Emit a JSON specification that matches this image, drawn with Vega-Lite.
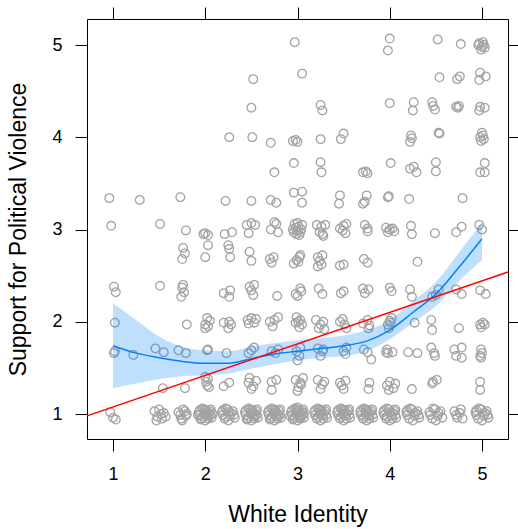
{
  "$schema": "https://vega.github.io/schema/vega-lite/v6.json",
  "width": 421,
  "height": 420,
  "autosize": "none",
  "padding": {"left": 87, "top": 19, "right": 10, "bottom": 90},
  "background": "white",
  "config": {
    "view": {"stroke": "black", "strokeWidth": 1},
    "axis": {"grid": false, "domain": false, "tickColor": "black", "tickSize": 12, "tickWidth": 1, "labelColor": "black", "titleColor": "black", "labelFont": "Liberation Sans", "titleFont": "Liberation Sans", "labelFontSize": 18, "titleFontSize": 23, "titleFontWeight": "normal"}
  },
  "datasets": {
    "pts": [
      {"x":2.97,"y":5.03},{"x":4.0,"y":5.07},{"x":3.98,"y":4.94},{"x":4.52,"y":5.06},{"x":4.77,"y":5.01},{"x":4.97,"y":5.02},{"x":5.0,"y":4.98},{"x":5.02,"y":5.0},{"x":4.99,"y":4.95},{"x":5.03,"y":4.97},{"x":4.96,"y":5.0},{"x":5.01,"y":5.03},
      {"x":2.52,"y":4.63},{"x":3.05,"y":4.69},{"x":4.54,"y":4.65},{"x":4.73,"y":4.63},{"x":4.76,"y":4.66},{"x":4.98,"y":4.7},{"x":5.04,"y":4.66},{"x":4.97,"y":4.62},
      {"x":2.5,"y":4.32},{"x":3.25,"y":4.35},{"x":3.27,"y":4.29},{"x":4.0,"y":4.37},{"x":4.26,"y":4.38},{"x":4.25,"y":4.29},{"x":4.46,"y":4.38},{"x":4.47,"y":4.34},{"x":4.49,"y":4.3},{"x":4.72,"y":4.33},{"x":4.75,"y":4.34},{"x":4.74,"y":4.32},{"x":4.98,"y":4.33},{"x":5.03,"y":4.32},{"x":4.97,"y":4.29},
      {"x":2.26,"y":4.0},{"x":2.51,"y":4.0},{"x":2.71,"y":3.94},{"x":2.95,"y":3.96},{"x":2.98,"y":3.97},{"x":3.0,"y":3.95},{"x":3.25,"y":3.98},{"x":3.47,"y":3.98},{"x":3.5,"y":4.04},{"x":4.22,"y":3.95},{"x":4.24,"y":3.99},{"x":4.23,"y":4.02},{"x":4.53,"y":4.05},{"x":4.54,"y":4.04},{"x":5.0,"y":4.05},{"x":4.98,"y":4.0},{"x":5.02,"y":3.98},{"x":4.99,"y":3.96},{"x":5.01,"y":4.02},
      {"x":2.75,"y":3.62},{"x":2.96,"y":3.72},{"x":3.25,"y":3.73},{"x":3.26,"y":3.62},{"x":3.71,"y":3.62},{"x":3.74,"y":3.63},{"x":3.76,"y":3.61},{"x":4.01,"y":3.72},{"x":4.22,"y":3.66},{"x":4.26,"y":3.68},{"x":4.29,"y":3.62},{"x":4.5,"y":3.73},{"x":4.5,"y":3.63},{"x":5.03,"y":3.72},{"x":4.98,"y":3.62},{"x":5.03,"y":3.62},
      {"x":0.96,"y":3.34},{"x":1.29,"y":3.32},{"x":1.73,"y":3.35},{"x":2.22,"y":3.31},{"x":2.5,"y":3.31},{"x":2.71,"y":3.32},{"x":2.77,"y":3.29},{"x":2.96,"y":3.4},{"x":3.05,"y":3.41},{"x":3.05,"y":3.29},{"x":3.46,"y":3.37},{"x":3.45,"y":3.28},{"x":3.73,"y":3.3},{"x":3.75,"y":3.37},{"x":3.71,"y":3.28},{"x":3.98,"y":3.35},{"x":3.99,"y":3.36},{"x":4.21,"y":3.33},{"x":4.79,"y":3.34},
      {"x":0.98,"y":3.04},{"x":1.51,"y":3.06},{"x":1.79,"y":2.99},{"x":1.98,"y":2.95},{"x":2.03,"y":2.94},{"x":2.0,"y":2.96},{"x":2.21,"y":2.95},{"x":2.29,"y":2.97},{"x":2.45,"y":3.05},{"x":2.5,"y":3.07},{"x":2.54,"y":3.05},{"x":2.47,"y":2.96},{"x":2.71,"y":3.0},{"x":2.77,"y":3.06},{"x":2.79,"y":2.97},{"x":2.75,"y":3.08},
      {"x":2.95,"y":3.0},{"x":2.97,"y":3.06},{"x":2.99,"y":2.95},{"x":3.01,"y":3.03},{"x":3.03,"y":2.97},{"x":3.05,"y":3.05},{"x":2.96,"y":2.97},{"x":2.98,"y":3.02},{"x":3.0,"y":3.07},{"x":3.02,"y":2.94},{"x":3.04,"y":3.0},{"x":3.0,"y":2.99},
      {"x":3.21,"y":3.05},{"x":3.26,"y":3.03},{"x":3.3,"y":3.05},{"x":3.27,"y":2.95},{"x":3.24,"y":2.97},{"x":3.28,"y":2.93},
      {"x":3.46,"y":3.01},{"x":3.49,"y":2.99},{"x":3.53,"y":3.06},{"x":3.52,"y":2.96},{"x":3.5,"y":3.04},
      {"x":3.73,"y":3.05},{"x":3.76,"y":3.01},{"x":3.76,"y":2.98},{"x":3.96,"y":3.02},{"x":4.0,"y":3.0},{"x":4.03,"y":3.01},{"x":4.05,"y":2.98},{"x":3.98,"y":2.97},{"x":4.23,"y":3.04},{"x":4.24,"y":2.95},{"x":4.49,"y":2.96},{"x":4.72,"y":2.97},{"x":4.78,"y":3.03},{"x":4.97,"y":3.05},{"x":5.0,"y":3.0},
      {"x":1.76,"y":2.8},{"x":1.78,"y":2.74},{"x":1.75,"y":2.68},{"x":2.03,"y":2.83},{"x":2.0,"y":2.7},{"x":2.25,"y":2.83},{"x":2.26,"y":2.79},{"x":2.27,"y":2.7},{"x":2.48,"y":2.76},{"x":2.5,"y":2.66},{"x":2.7,"y":2.68},{"x":2.72,"y":2.64},{"x":2.74,"y":2.7},{"x":2.96,"y":2.63},{"x":2.99,"y":2.67},{"x":3.02,"y":2.7},{"x":3.01,"y":2.65},{"x":3.03,"y":2.72},{"x":3.22,"y":2.7},{"x":3.24,"y":2.66},{"x":3.26,"y":2.62},{"x":3.22,"y":2.6},{"x":3.27,"y":2.72},{"x":3.46,"y":2.61},{"x":3.5,"y":2.62},{"x":3.72,"y":2.68},{"x":3.76,"y":2.64},{"x":4.3,"y":2.65},
      {"x":1.01,"y":2.38},{"x":1.03,"y":2.32},{"x":1.51,"y":2.39},{"x":1.75,"y":2.37},{"x":1.77,"y":2.32},{"x":1.74,"y":2.27},{"x":1.76,"y":2.4},{"x":2.2,"y":2.31},{"x":2.27,"y":2.34},{"x":2.26,"y":2.27},{"x":2.48,"y":2.38},{"x":2.52,"y":2.29},{"x":2.53,"y":2.4},{"x":2.5,"y":2.34},{"x":2.78,"y":2.28},{"x":3.0,"y":2.28},{"x":3.03,"y":2.36},{"x":3.04,"y":2.33},{"x":2.98,"y":2.3},{"x":3.23,"y":2.36},{"x":3.27,"y":2.3},{"x":3.47,"y":2.31},{"x":3.5,"y":2.33},{"x":3.71,"y":2.36},{"x":3.73,"y":2.31},{"x":3.77,"y":2.35},{"x":4.0,"y":2.37},{"x":4.02,"y":2.33},{"x":4.22,"y":2.35},{"x":4.24,"y":2.27},{"x":4.46,"y":2.27},{"x":4.5,"y":2.29},{"x":4.53,"y":2.35},{"x":4.72,"y":2.35},{"x":4.78,"y":2.3},{"x":4.98,"y":2.34},{"x":5.04,"y":2.3},
      {"x":1.02,"y":1.99},{"x":1.8,"y":1.97},{"x":2.0,"y":1.97},{"x":2.02,"y":2.04},{"x":2.05,"y":2.01},{"x":2.0,"y":1.93},{"x":2.03,"y":1.95},{"x":2.2,"y":1.99},{"x":2.26,"y":2.0},{"x":2.25,"y":1.93},{"x":2.28,"y":1.97},{"x":2.46,"y":2.02},{"x":2.5,"y":2.04},{"x":2.53,"y":1.99},{"x":2.47,"y":1.98},{"x":2.55,"y":2.03},{"x":2.7,"y":2.0},{"x":2.75,"y":2.02},{"x":2.73,"y":1.95},{"x":2.79,"y":2.05},{"x":2.98,"y":1.99},{"x":3.03,"y":2.02},{"x":3.05,"y":1.97},{"x":3.02,"y":1.94},{"x":2.99,"y":2.05},{"x":3.01,"y":2.0},{"x":3.2,"y":2.02},{"x":3.25,"y":1.97},{"x":3.28,"y":2.0},{"x":3.23,"y":1.93},{"x":3.29,"y":1.92},{"x":3.46,"y":2.0},{"x":3.51,"y":1.97},{"x":3.49,"y":2.03},{"x":3.53,"y":1.93},{"x":3.71,"y":1.98},{"x":3.76,"y":2.02},{"x":3.78,"y":1.96},{"x":3.77,"y":1.93},{"x":3.98,"y":1.97},{"x":4.0,"y":2.01},{"x":3.99,"y":1.93},{"x":4.02,"y":2.04},{"x":4.01,"y":1.99},{"x":4.27,"y":1.99},{"x":4.45,"y":2.02},{"x":4.46,"y":1.91},{"x":4.75,"y":1.93},{"x":4.98,"y":1.97},{"x":5.01,"y":1.99},{"x":5.03,"y":1.97},{"x":4.99,"y":1.94},
      {"x":1.02,"y":1.68},{"x":1.01,"y":1.66},{"x":1.22,"y":1.64},{"x":1.46,"y":1.71},{"x":1.55,"y":1.67},{"x":1.71,"y":1.69},{"x":1.79,"y":1.66},{"x":2.03,"y":1.7},{"x":2.02,"y":1.69},{"x":2.23,"y":1.66},{"x":2.47,"y":1.66},{"x":2.5,"y":1.69},{"x":2.53,"y":1.72},{"x":2.72,"y":1.68},{"x":2.76,"y":1.66},{"x":2.79,"y":1.7},{"x":2.99,"y":1.68},{"x":3.02,"y":1.63},{"x":3.03,"y":1.72},{"x":3.0,"y":1.58},{"x":3.22,"y":1.71},{"x":3.27,"y":1.68},{"x":3.25,"y":1.63},{"x":3.28,"y":1.7},{"x":3.5,"y":1.68},{"x":3.53,"y":1.72},{"x":3.52,"y":1.65},{"x":3.72,"y":1.7},{"x":3.76,"y":1.67},{"x":3.8,"y":1.59},{"x":3.97,"y":1.7},{"x":3.98,"y":1.66},{"x":4.03,"y":1.67},{"x":3.96,"y":1.67},{"x":4.2,"y":1.67},{"x":4.3,"y":1.66},{"x":4.45,"y":1.72},{"x":4.48,"y":1.66},{"x":4.49,"y":1.63},{"x":4.7,"y":1.7},{"x":4.78,"y":1.72},{"x":4.72,"y":1.63},{"x":4.78,"y":1.61},{"x":4.99,"y":1.7},{"x":5.0,"y":1.66},{"x":4.98,"y":1.63},{"x":4.99,"y":1.61},
      {"x":1.54,"y":1.28},{"x":1.78,"y":1.28},{"x":2.0,"y":1.4},{"x":2.03,"y":1.38},{"x":2.01,"y":1.35},{"x":2.04,"y":1.29},{"x":2.02,"y":1.31},{"x":2.2,"y":1.3},{"x":2.26,"y":1.34},{"x":2.48,"y":1.39},{"x":2.52,"y":1.3},{"x":2.47,"y":1.34},{"x":2.55,"y":1.36},{"x":2.5,"y":1.27},{"x":2.72,"y":1.35},{"x":2.77,"y":1.37},{"x":2.72,"y":1.26},{"x":2.98,"y":1.37},{"x":3.03,"y":1.34},{"x":3.01,"y":1.29},{"x":3.06,"y":1.39},{"x":3.0,"y":1.25},{"x":3.04,"y":1.32},{"x":3.22,"y":1.37},{"x":3.27,"y":1.32},{"x":3.25,"y":1.27},{"x":3.29,"y":1.35},{"x":3.46,"y":1.34},{"x":3.52,"y":1.36},{"x":3.5,"y":1.27},{"x":3.48,"y":1.31},{"x":3.78,"y":1.34},{"x":3.77,"y":1.27},{"x":3.97,"y":1.31},{"x":4.0,"y":1.35},{"x":3.99,"y":1.26},{"x":4.04,"y":1.28},{"x":4.06,"y":1.33},{"x":4.24,"y":1.27},{"x":4.47,"y":1.35},{"x":4.51,"y":1.37},{"x":4.46,"y":1.33},{"x":4.98,"y":1.35},{"x":4.98,"y":1.26},
      {"x":0.97,"y":1.02},{"x":1.0,"y":0.96},{"x":1.03,"y":0.94},
      {"x":1.45,"y":1.03},{"x":1.48,"y":0.97},{"x":1.5,"y":1.05},{"x":1.53,"y":0.95},{"x":1.55,"y":1.01},{"x":1.47,"y":0.93},{"x":1.52,"y":1.0},{"x":1.57,"y":0.97},
      {"x":1.71,"y":1.02},{"x":1.74,"y":0.95},{"x":1.76,"y":1.05},{"x":1.79,"y":0.98},{"x":1.73,"y":0.99},{"x":1.78,"y":1.03},{"x":1.75,"y":0.93},{"x":1.8,"y":1.0},
      {"x":1.93,"y":1.02},{"x":1.96,"y":0.95},{"x":1.99,"y":1.05},{"x":2.02,"y":0.98},{"x":2.05,"y":1.03},{"x":2.07,"y":0.96},{"x":1.94,"y":0.99},{"x":1.97,"y":1.06},{"x":2.0,"y":0.93},{"x":2.03,"y":1.01},{"x":2.06,"y":0.99},{"x":1.94,"y":1.04},{"x":1.97,"y":0.97},{"x":2.0,"y":1.02},{"x":2.03,"y":0.95},{"x":2.06,"y":1.05},{"x":1.99,"y":1.0},{"x":2.01,"y":1.04},{"x":1.95,"y":0.94},{"x":2.04,"y":0.97},{"x":2.08,"y":1.0},{"x":1.92,"y":0.99},
      {"x":2.18,"y":1.02},{"x":2.21,"y":0.95},{"x":2.24,"y":1.05},{"x":2.27,"y":0.98},{"x":2.3,"y":1.03},{"x":2.32,"y":0.96},{"x":2.19,"y":0.99},{"x":2.22,"y":1.06},{"x":2.25,"y":0.93},{"x":2.28,"y":1.01},{"x":2.31,"y":0.99},{"x":2.19,"y":1.04},{"x":2.22,"y":0.97},{"x":2.25,"y":1.02},
      {"x":2.43,"y":1.02},{"x":2.46,"y":0.95},{"x":2.49,"y":1.05},{"x":2.52,"y":0.98},{"x":2.55,"y":1.03},{"x":2.57,"y":0.96},{"x":2.44,"y":0.99},{"x":2.47,"y":1.06},{"x":2.5,"y":0.93},{"x":2.53,"y":1.01},{"x":2.56,"y":0.99},{"x":2.44,"y":1.04},{"x":2.47,"y":0.97},{"x":2.5,"y":1.02},{"x":2.53,"y":0.95},{"x":2.56,"y":1.05},{"x":2.49,"y":1.0},{"x":2.51,"y":1.04},{"x":2.45,"y":0.94},{"x":2.54,"y":0.97},
      {"x":2.68,"y":1.02},{"x":2.71,"y":0.95},{"x":2.74,"y":1.05},{"x":2.77,"y":0.98},{"x":2.8,"y":1.03},{"x":2.82,"y":0.96},{"x":2.69,"y":0.99},{"x":2.72,"y":1.06},{"x":2.75,"y":0.93},{"x":2.78,"y":1.01},{"x":2.81,"y":0.99},{"x":2.69,"y":1.04},{"x":2.72,"y":0.97},{"x":2.75,"y":1.02},{"x":2.78,"y":0.95},{"x":2.81,"y":1.05},{"x":2.74,"y":1.0},{"x":2.76,"y":1.04},{"x":2.7,"y":0.94},{"x":2.79,"y":0.97},
      {"x":2.93,"y":1.02},{"x":2.96,"y":0.95},{"x":2.99,"y":1.05},{"x":3.02,"y":0.98},{"x":3.05,"y":1.03},{"x":3.07,"y":0.96},{"x":2.94,"y":0.99},{"x":2.97,"y":1.06},{"x":3.0,"y":0.93},{"x":3.03,"y":1.01},{"x":3.06,"y":0.99},{"x":2.94,"y":1.04},{"x":2.97,"y":0.97},{"x":3.0,"y":1.02},{"x":3.03,"y":0.95},{"x":3.06,"y":1.05},{"x":2.99,"y":1.0},{"x":3.01,"y":1.04},{"x":2.95,"y":0.94},{"x":3.04,"y":0.97},{"x":3.07,"y":1.01},{"x":2.92,"y":0.98},{"x":3.0,"y":1.07},{"x":3.02,"y":0.96},
      {"x":3.18,"y":1.02},{"x":3.21,"y":0.95},{"x":3.24,"y":1.05},{"x":3.27,"y":0.98},{"x":3.3,"y":1.03},{"x":3.32,"y":0.96},{"x":3.19,"y":0.99},{"x":3.22,"y":1.06},{"x":3.25,"y":0.93},{"x":3.28,"y":1.01},{"x":3.31,"y":0.99},{"x":3.19,"y":1.04},{"x":3.22,"y":0.97},{"x":3.25,"y":1.02},{"x":3.28,"y":0.95},{"x":3.31,"y":1.05},{"x":3.24,"y":1.0},{"x":3.26,"y":1.04},
      {"x":3.43,"y":1.02},{"x":3.46,"y":0.95},{"x":3.49,"y":1.05},{"x":3.52,"y":0.98},{"x":3.55,"y":1.03},{"x":3.57,"y":0.96},{"x":3.44,"y":0.99},{"x":3.47,"y":1.06},{"x":3.5,"y":0.93},{"x":3.53,"y":1.01},{"x":3.56,"y":0.99},{"x":3.44,"y":1.04},{"x":3.47,"y":0.97},{"x":3.5,"y":1.02},{"x":3.53,"y":0.95},{"x":3.56,"y":1.05},{"x":3.49,"y":1.0},{"x":3.51,"y":1.04},
      {"x":3.68,"y":1.02},{"x":3.71,"y":0.95},{"x":3.74,"y":1.05},{"x":3.77,"y":0.98},{"x":3.8,"y":1.03},{"x":3.82,"y":0.96},{"x":3.69,"y":0.99},{"x":3.72,"y":1.06},{"x":3.75,"y":0.93},{"x":3.78,"y":1.01},{"x":3.81,"y":0.99},{"x":3.69,"y":1.04},{"x":3.72,"y":0.97},{"x":3.75,"y":1.02},{"x":3.78,"y":0.95},{"x":3.81,"y":1.05},{"x":3.74,"y":1.0},{"x":3.76,"y":1.04},
      {"x":3.93,"y":1.02},{"x":3.96,"y":0.95},{"x":3.99,"y":1.05},{"x":4.02,"y":0.98},{"x":4.05,"y":1.03},{"x":4.07,"y":0.96},{"x":3.94,"y":0.99},{"x":3.97,"y":1.06},{"x":4.0,"y":0.93},{"x":4.03,"y":1.01},{"x":4.06,"y":0.99},{"x":3.94,"y":1.04},{"x":3.97,"y":0.97},{"x":4.0,"y":1.02},{"x":4.03,"y":0.95},{"x":4.06,"y":1.05},
      {"x":4.18,"y":1.02},{"x":4.21,"y":0.95},{"x":4.24,"y":1.05},{"x":4.27,"y":0.98},{"x":4.3,"y":1.03},{"x":4.32,"y":0.96},{"x":4.19,"y":0.99},{"x":4.22,"y":1.06},{"x":4.25,"y":0.93},{"x":4.28,"y":1.01},{"x":4.31,"y":0.99},{"x":4.19,"y":1.04},
      {"x":4.43,"y":1.02},{"x":4.46,"y":0.95},{"x":4.49,"y":1.05},{"x":4.52,"y":0.98},{"x":4.55,"y":1.03},{"x":4.57,"y":0.96},{"x":4.44,"y":0.99},{"x":4.47,"y":1.06},{"x":4.5,"y":0.93},{"x":4.53,"y":1.01},
      {"x":4.7,"y":1.03},{"x":4.73,"y":0.96},{"x":4.76,"y":1.01},{"x":4.79,"y":0.95},{"x":4.77,"y":1.05},{"x":4.72,"y":0.99},
      {"x":4.93,"y":1.02},{"x":4.96,"y":0.95},{"x":4.99,"y":1.05},{"x":5.02,"y":0.98},{"x":5.05,"y":1.03},{"x":5.07,"y":0.96},{"x":4.94,"y":0.99},{"x":4.97,"y":1.06},{"x":5.0,"y":0.93},{"x":5.03,"y":1.01},{"x":5.06,"y":0.99},{"x":4.94,"y":1.04}
    ],
    "smooth": [
      {"x":1.0,"fit":1.74,"lo":1.28,"hi":2.2},
      {"x":1.25,"fit":1.66,"lo":1.33,"hi":2.02},
      {"x":1.5,"fit":1.61,"lo":1.38,"hi":1.84},
      {"x":1.75,"fit":1.57,"lo":1.41,"hi":1.73},
      {"x":2.0,"fit":1.55,"lo":1.42,"hi":1.69},
      {"x":2.25,"fit":1.55,"lo":1.44,"hi":1.68},
      {"x":2.5,"fit":1.6,"lo":1.49,"hi":1.73},
      {"x":2.75,"fit":1.65,"lo":1.54,"hi":1.77},
      {"x":3.0,"fit":1.68,"lo":1.58,"hi":1.8},
      {"x":3.25,"fit":1.71,"lo":1.61,"hi":1.82},
      {"x":3.5,"fit":1.74,"lo":1.63,"hi":1.85},
      {"x":3.75,"fit":1.79,"lo":1.68,"hi":1.91},
      {"x":4.0,"fit":1.91,"lo":1.81,"hi":2.02},
      {"x":4.25,"fit":2.1,"lo":1.99,"hi":2.22},
      {"x":4.5,"fit":2.3,"lo":2.17,"hi":2.43},
      {"x":4.75,"fit":2.59,"lo":2.44,"hi":2.75},
      {"x":5.0,"fit":2.9,"lo":2.67,"hi":3.08}
    ],
    "reg": [
      {"x":0.718,"y":0.98},
      {"x":5.282,"y":2.54}
    ]
  },
  "resolve": {"axis": {"x": "independent", "y": "independent"}},
  "layer": [
    {
      "data": {"name": "pts"},
      "mark": {"type": "point", "shape": "circle", "filled": false, "color": "#a3a3a3", "size": 75, "strokeWidth": 1.3, "opacity": 1},
      "encoding": {
        "x": {"field": "x", "type": "quantitative", "scale": {"domain": [0.718, 5.282], "nice": false, "zero": false},
              "axis": {"orient": "bottom", "values": [1, 2, 3, 4, 5], "labelAngle": 0, "labelPadding": 14, "title": "White Identity", "titleBaseline": "alphabetic", "titleY": 82, "titleX": 210.5}},
        "y": {"field": "y", "type": "quantitative", "scale": {"domain": [0.729, 5.282], "nice": false, "zero": false},
              "axis": {"orient": "left", "values": [1, 2, 3, 4, 5], "labelPadding": 13, "title": "Support for Political Violence", "titleBaseline": "alphabetic", "titleX": -61.5, "titleY": 210, "titleAngle": -90}}
      }
    },
    {
      "data": {"name": "smooth"},
      "mark": {"type": "area", "color": "#0080ff", "opacity": 0.25, "interpolate": "monotone"},
      "encoding": {
        "x": {"field": "x", "type": "quantitative", "scale": {"domain": [0.718, 5.282], "nice": false, "zero": false}, "axis": null},
        "y": {"field": "lo", "type": "quantitative", "scale": {"domain": [0.729, 5.282], "nice": false, "zero": false}, "axis": null},
        "y2": {"field": "hi"}
      }
    },
    {
      "data": {"name": "smooth"},
      "mark": {"type": "line", "color": "#0080ff", "strokeWidth": 1.5, "interpolate": "monotone"},
      "encoding": {
        "x": {"field": "x", "type": "quantitative", "scale": {"domain": [0.718, 5.282], "nice": false, "zero": false}, "axis": null},
        "y": {"field": "fit", "type": "quantitative", "scale": {"domain": [0.729, 5.282], "nice": false, "zero": false}, "axis": null}
      }
    },
    {
      "data": {"name": "reg"},
      "mark": {"type": "line", "color": "#ff0000", "strokeWidth": 1.5},
      "encoding": {
        "x": {"field": "x", "type": "quantitative", "scale": {"domain": [0.718, 5.282], "nice": false, "zero": false},
              "axis": {"orient": "top", "values": [1, 2, 3, 4, 5], "labels": false, "title": null}},
        "y": {"field": "y", "type": "quantitative", "scale": {"domain": [0.729, 5.282], "nice": false, "zero": false},
              "axis": {"orient": "right", "values": [1, 2, 3, 4, 5], "labels": false, "title": null}}
      }
    }
  ]
}
